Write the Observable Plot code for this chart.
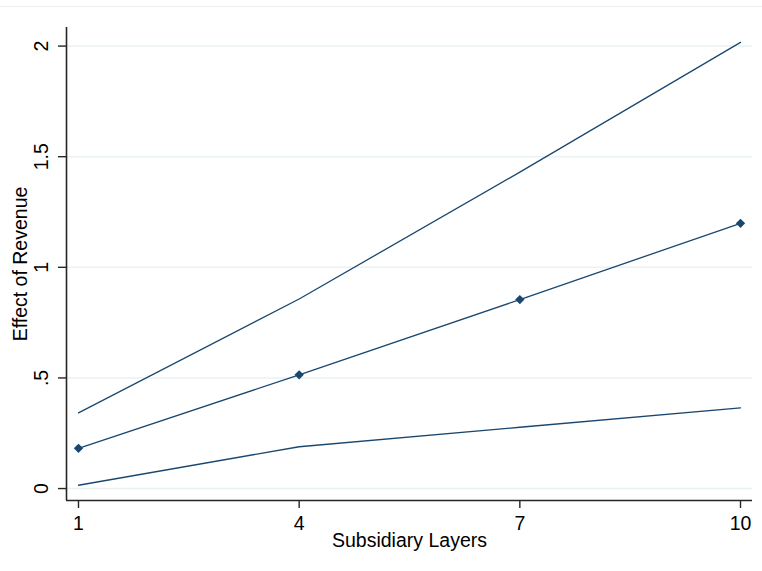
<!DOCTYPE html>
<html>
<head>
<meta charset="utf-8">
<script src="https://cdn.jsdelivr.net/npm/d3@7"></script>
<script src="https://cdn.jsdelivr.net/npm/@observablehq/plot@0.6"></script>
<style>
  html, body { margin: 0; padding: 0; background: #fff; }
  #wrap { position: relative; width: 762px; height: 571px; }
  #topline { position: absolute; left: 0; top: 6px; width: 762px; height: 1px; background: #e9eff2; }
  svg { display: block; font-family: "Liberation Sans", Arial, sans-serif; }
</style>
</head>
<body>
<div id="wrap"><div id="topline"></div></div>
<script>
// Data
const layers = [1, 4, 7, 10];
const effect = [0.182, 0.514, 0.854, 1.199];
const upperCI = [0.342, 0.857, 1.430, 2.017];
const lowerCI = [0.015, 0.189, 0.277, 0.365];

const xTicks = [1, 4, 7, 10];
const yTicks = [0, 0.5, 1, 1.5, 2];
const yTickLabels = ["0", ".5", "1", "1.5", "2"];

const xTitle = "Subsidiary Layers";
const yTitle = "Effect of Revenue";

const xDomain = [0.837, 10.163];
const yDomain = [-0.054, 2.084];

const rows = layers.map((l, i) => ({layer: l, effect: effect[i], upper: upperCI[i], lower: lowerCI[i]}));
const yLabelRows = yTicks.map((v, i) => ({v, label: yTickLabels[i]}));

const navy = "#1a476f";
const axisColor = "#262626";
const fs = 19.5;

const chart = Plot.plot({
  width: 762,
  height: 571,
  marginLeft: 66,
  marginRight: 10,
  marginTop: 27,
  marginBottom: 71,
  style: {fontFamily: '"Liberation Sans", Arial, sans-serif', background: "#fff", color: "#000"},
  x: {domain: xDomain},
  y: {domain: yDomain},
  marks: [
    Plot.gridY(yTicks, {stroke: "#eaf2f3", strokeOpacity: 1, strokeWidth: 1.5}),
    Plot.ruleX([xDomain[0]], {stroke: axisColor, strokeWidth: 1.6}),
    Plot.ruleY([yDomain[0]], {stroke: axisColor, strokeWidth: 1.6}),
    Plot.axisX({ticks: xTicks, tickSize: 8, tickPadding: 8, tickFormat: d => String(d), fontSize: fs, label: null, stroke: axisColor, strokeWidth: 1.4, color: "#000"}),
    Plot.axisY({ticks: yTicks, tickSize: 8, tickFormat: () => "", label: null, stroke: axisColor, strokeWidth: 1.4}),
    Plot.text(yLabelRows, {y: "v", text: "label", frameAnchor: "left", dx: -25, rotate: -90, textAnchor: "middle", lineAnchor: "middle", fontSize: fs, fill: "#000"}),
    Plot.text([yTitle], {frameAnchor: "left", dx: -46, rotate: -90, textAnchor: "middle", lineAnchor: "middle", fontSize: fs, fill: "#000"}),
    Plot.text([xTitle], {frameAnchor: "bottom", dy: 33, textAnchor: "middle", lineAnchor: "top", fontSize: fs, fill: "#000"}),
    Plot.line(rows, {x: "layer", y: "upper", stroke: navy, strokeWidth: 1.3}),
    Plot.line(rows, {x: "layer", y: "lower", stroke: navy, strokeWidth: 1.3}),
    Plot.line(rows, {x: "layer", y: "effect", stroke: navy, strokeWidth: 1.3}),
    Plot.dot(rows, {x: "layer", y: "effect", symbol: "diamond2", r: 4.2, fill: navy, stroke: "none"})
  ]
});
document.getElementById("wrap").appendChild(chart);
</script>
</body>
</html>
